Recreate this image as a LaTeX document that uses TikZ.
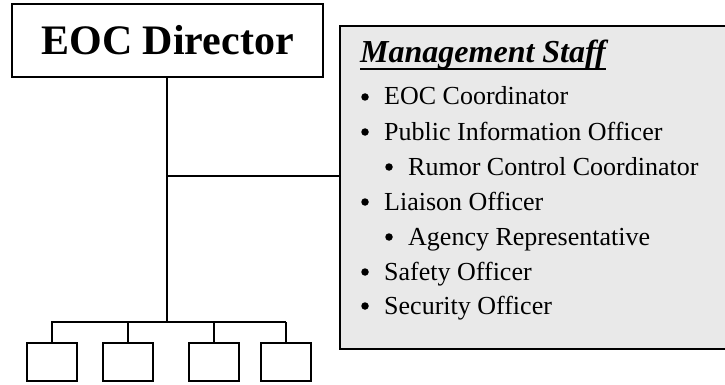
\documentclass[tikz,border=0pt]{standalone}
\usepackage{fontspec}
\setmainfont{Liberation Serif}
\usetikzlibrary{calc}
\begin{document}
\begin{tikzpicture}[x=1pt,y=-1pt]
\tikzset{
  chief/.style={draw, line width=1.5pt, fill=white, minimum width=311pt, minimum height=73pt,
    inner sep=0pt, font=\fontsize{42}{42}\selectfont\bfseries},
  staffbox/.style={draw, line width=2pt, fill=gray!17, minimum width=391pt, minimum height=323pt,
    inner sep=0pt, anchor=north west},
  unit/.style={draw, line width=1.5pt, fill=white, minimum width=50pt, minimum height=38pt, inner sep=0pt},
  item/.style={anchor=base west, inner sep=0pt, font=\fontsize{26}{26}\selectfont},
  dot/.style={circle, fill=black, inner sep=0pt, minimum size=7.5pt},
  link/.style={line width=1.5pt}
}
\useasboundingbox (0,0) rectangle (725,385);
\node[chief] (director) at (167.5,40.5) {EOC Director};
\node[staffbox] (staff) at (339,25) {};
\coordinate (branch) at (167,176);
\coordinate (bus) at (167,322);
\coordinate (busL) at (51,322);
\coordinate (busR) at (286,322);
\node[unit] (u1) at (52,362) {};
\node[unit] (u2) at (128,362) {};
\node[unit] (u3) at (214,362) {};
\node[unit] (u4) at (286,362) {};
\draw[link] (director.south -| bus) -- (bus);
\draw[link] (branch) -- (branch -| staff.west);
\draw[link] (busL) -- (busR);
\draw[link] (u1.north) -- (u1.north |- bus);
\draw[link] (u2.north) -- (u2.north |- bus);
\draw[link] (u3.north) -- (u3.north |- bus);
\draw[link] (u4.north) -- (u4.north |- bus);
% management staff list
\node[item, font=\fontsize{32}{32}\selectfont\bfseries\itshape] (title) at (360,63) {Management Staff};
\draw[line width=2.5pt] ($(title.base west)+(0,6)$) -- ($(title.base east)+(0,6)$);
\node[dot] (b1) at (365,97) {};
\node[item] (i1) at (384,105) {EOC Coordinator};
\node[dot] (b2) at (365,132) {};
\node[item] (i2) at (384,140) {Public Information Officer};
\node[dot] (b3) at (389,167) {};
\node[item] (i3) at (408,175) {Rumor Control Coordinator};
\node[dot] (b4) at (365,202) {};
\node[item] (i4) at (384,210) {Liaison Officer};
\node[dot] (b5) at (389,237) {};
\node[item] (i5) at (408,245) {Agency Representative};
\node[dot] (b6) at (365,272) {};
\node[item] (i6) at (384,280) {Safety Officer};
\node[dot] (b7) at (365,306) {};
\node[item] (i7) at (384,314) {Security Officer};
\end{tikzpicture}
\end{document}
